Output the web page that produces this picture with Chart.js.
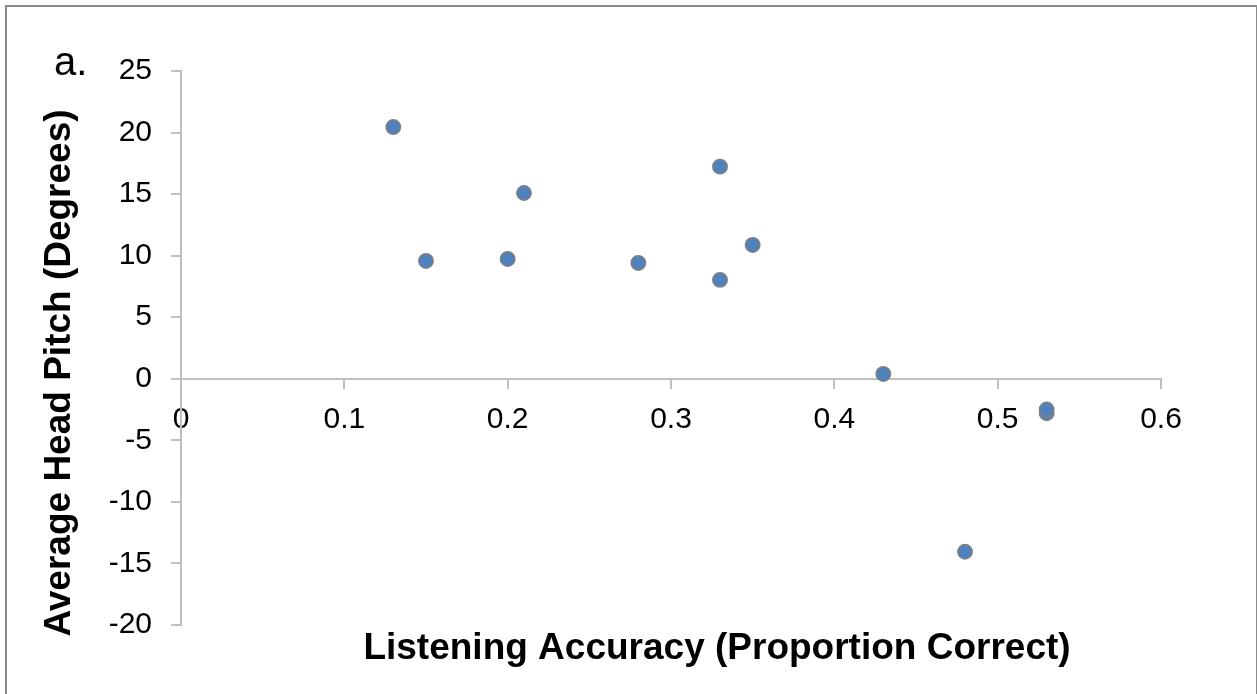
<!DOCTYPE html>
<html>
<head>
<meta charset="utf-8">
<title>Average Head Pitch vs Listening Accuracy</title>
<script src="https://cdn.jsdelivr.net/npm/chart.js"></script>
<style>
  html, body { margin: 0; padding: 0; background: #fff; overflow: hidden; }
  #wrap { position: relative; width: 1257px; height: 694px; }
  #marco {
    position: absolute; left: 5px; top: 5px; width: 1249px; height: 700px;
    border: 2px solid #8c8c8c; pointer-events: none;
  }
</style>
</head>
<body>
<div id="wrap">
  <canvas id="grafico" width="1257" height="694"></canvas>
  <div id="marco"></div>
</div>
<script>
// Datos
const precision = [0.13, 0.15, 0.20, 0.21, 0.28, 0.33, 0.33, 0.35, 0.43, 0.48, 0.53, 0.53];
const inclinacion = [20.45, 9.57, 9.73, 15.09, 9.41, 17.23, 8.03, 10.87, 0.39, -14.05, -2.8, -2.5];

const ticksX = [0, 0.1, 0.2, 0.3, 0.4, 0.5, 0.6];
const ticksY = [-20, -15, -10, -5, 0, 5, 10, 15, 20, 25];

const tituloX = 'Listening Accuracy (Proportion Correct)';
const tituloY = 'Average Head Pitch (Degrees)';
const etiquetaPanel = 'a.';

const fuente = "'Liberation Sans', Arial, sans-serif";

// Titulos y etiqueta "a." dibujados a mano
const textosExtra = {
  id: 'textosExtra',
  afterDraw(chart) {
    const ctx = chart.ctx;
    ctx.save();
    ctx.fillStyle = '#000';
    ctx.font = "40px " + fuente;
    ctx.textAlign = 'left';
    ctx.textBaseline = 'alphabetic';
    ctx.fillText(etiquetaPanel, 54, 75);

    ctx.font = "bold 37px " + fuente;
    ctx.textAlign = 'center';
    ctx.fillText(tituloX, 717, 659);

    ctx.translate(70, 373);
    ctx.rotate(-Math.PI / 2);
    ctx.fillText(tituloY, 0, 0);
    ctx.restore();
  }
};

const colorEje = '#bfbfbf';

new Chart(document.getElementById('grafico'), {
  type: 'scatter',
  data: {
    datasets: [{
      label: 'Head pitch',
      data: precision.map((x, i) => ({ x: x, y: inclinacion[i] })),
      backgroundColor: '#4f81bd',
      borderColor: '#7f7f7f',
      borderWidth: 1.5,
      pointRadius: 7.2,
      pointHoverRadius: 7.2
    }]
  },
  options: {
    responsive: false,
    animation: false,
    devicePixelRatio: 1,
    layout: { padding: { left: 0, top: 71, right: 96, bottom: 69 } },
    plugins: {
      legend: { display: false },
      tooltip: { enabled: false }
    },
    scales: {
      x: {
        type: 'linear',
        position: { y: 0 },
        min: 0,
        max: 0.6,
        afterBuildTicks: s => { s.ticks = ticksX.map(v => ({ value: v })); },
        ticks: {
          color: '#000',
          font: { family: fuente, size: 30 },
          padding: 14,
          maxRotation: 0,
          autoSkip: false,
          callback: v => String(v)
        },
        grid: { display: true, drawOnChartArea: false, drawTicks: true, tickLength: 9, color: colorEje, lineWidth: 2 },
        border: { display: true, color: colorEje, width: 2 }
      },
      y: {
        type: 'linear',
        position: 'left',
        min: -20,
        max: 25,
        afterBuildTicks: s => { s.ticks = ticksY.map(v => ({ value: v })); },
        afterFit: s => { s.width = 181; },
        ticks: {
          color: '#000',
          font: { family: fuente, size: 30 },
          padding: 19,
          autoSkip: false,
          callback: v => String(v)
        },
        grid: { display: true, drawOnChartArea: false, drawTicks: true, tickLength: 10, color: colorEje, lineWidth: 2 },
        border: { display: true, color: colorEje, width: 2 }
      }
    }
  },
  plugins: [textosExtra]
});
</script>
</body>
</html>
